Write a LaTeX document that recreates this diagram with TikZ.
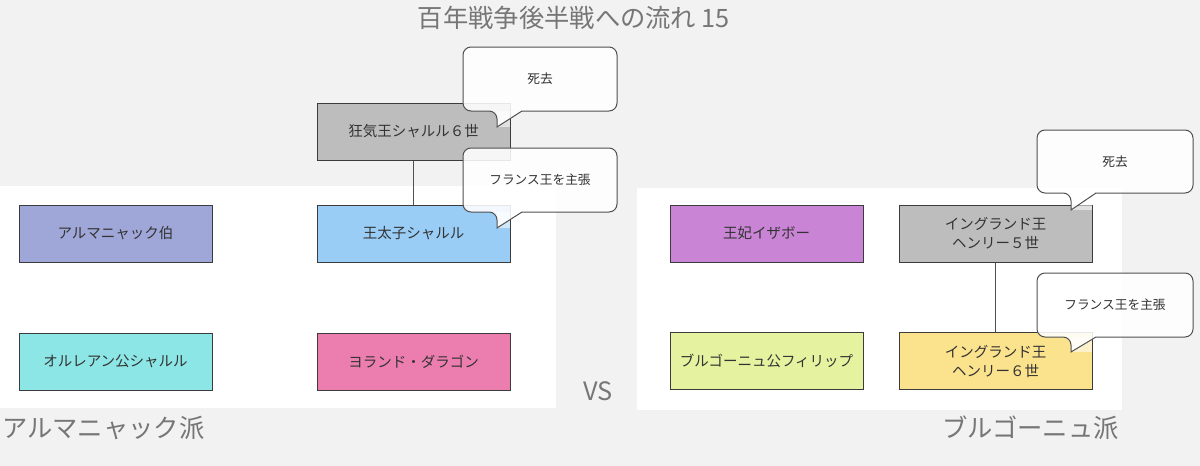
\documentclass[tikz,border=0pt]{standalone}
\usepackage{fontspec}
\setmainfont{Noto Sans CJK JP}
\definecolor{bg}{HTML}{F2F2F2}
\definecolor{lbl}{HTML}{767676}
\definecolor{txt}{HTML}{333333}
\definecolor{edge}{HTML}{3C3C3C}
\definecolor{cedge}{HTML}{505050}
\definecolor{cArm}{HTML}{9FA6D8}
\definecolor{cDau}{HTML}{99CDF6}
\definecolor{cOrl}{HTML}{8DE6E6}
\definecolor{cYol}{HTML}{EB7DAF}
\definecolor{cGray}{HTML}{BDBDBD}
\definecolor{cIsa}{HTML}{C984D5}
\definecolor{cBur}{HTML}{E5F3A0}
\definecolor{cHen}{HTML}{FBE28D}
% #1,#2 top-left; #3,#4 bottom-right; #5 tail tip y; #6 right end of the faint strip
\newcommand{\mycallout}[6]{%
  \fill[white, fill opacity=0.55] ({#1+34},#4) rectangle (#6,#5);
  \draw[cedge, line width=1pt, fill=white, fill opacity=0.88, rounded corners=8pt]
    ({(#1+#3)/2},#2) -- (#1,#2) -- (#1,#4) -- ({#1+34},#4) [sharp corners] -- ({#1+34},#5) -- ({#1+59},#4) [rounded corners=8pt] -- (#3,#4) -- (#3,#2) -- cycle;
}
\begin{document}
\begin{tikzpicture}[x=1pt,y=-1pt,
  box/.style={draw=edge, line width=1pt, minimum width=193pt, minimum height=57pt, inner sep=0pt, align=center, text=txt, font=\fontsize{14.5}{19}\selectfont},
  ctext/.style={inner sep=0pt, text=txt, font=\fontsize{12.7}{15}\selectfont},
  biglbl/.style={inner sep=0pt, text=lbl, font=\fontsize{25.3}{30}\selectfont},
  link/.style={draw=cedge, line width=1pt}]
\fill[bg] (0,0) rectangle (1200,466);
\useasboundingbox (0,0) rectangle (1200,466);
% panels
\fill[white] (0,186) rectangle (556,408);
\fill[white] (637,188) rectangle (1122,410);
% title and labels
\node[biglbl] (title) at (574,18) {百年戦争後半戦への流れ 15};
\node[biglbl, anchor=west] (armlbl) at (2,428) {アルマニャック派};
\node[biglbl, anchor=west] (burlbl) at (942,428) {ブルゴーニュ派};
\node[biglbl] (vs) at (598,391) {VS};
% left boxes
\node[box, fill=cArm] (arm) at (115.5,233.5) {アルマニャック伯};
\node[box, fill=cDau] (dau) at (413.5,233.5) {王太子シャルル};
\node[box, fill=cOrl] (orl) at (115.5,361.5) {オルレアン公シャルル};
\node[box, fill=cYol] (yol) at (413.5,361.5) {ヨランド・ダラゴン};
\node[box, fill=cGray] (ch6) at (413.5,131.5) {狂気王シャルル６世};
\draw[link] (ch6.south) -- (dau.north);
% right boxes
\node[box, fill=cIsa] (isa) at (766.5,233.5) {王妃イザボー};
\node[box, fill=cBur] (bur) at (766.5,361) {ブルゴーニュ公フィリップ};
\node[box, fill=cGray] (he5) at (995.5,233.5) {イングランド王\\ヘンリー５世};
\node[box, fill=cHen] (he6) at (995.5,361) {イングランド王\\ヘンリー６世};
\draw[link] (he5.south) -- (he6.north);
% callouts
\mycallout{463}{47}{617}{111}{127}{510}
\node[ctext] (c1) at (540,79) {死去};
\mycallout{463}{148}{617}{212}{228}{510}
\node[ctext] (c2) at (540,180) {フランス王を主張};
\mycallout{1037}{130}{1193}{193}{210}{1092}
\node[ctext] (c3) at (1115,161.5) {死去};
\mycallout{1037}{273}{1193}{337}{352}{1092}
\node[ctext] (c4) at (1115,305) {フランス王を主張};
\end{tikzpicture}
\end{document}
